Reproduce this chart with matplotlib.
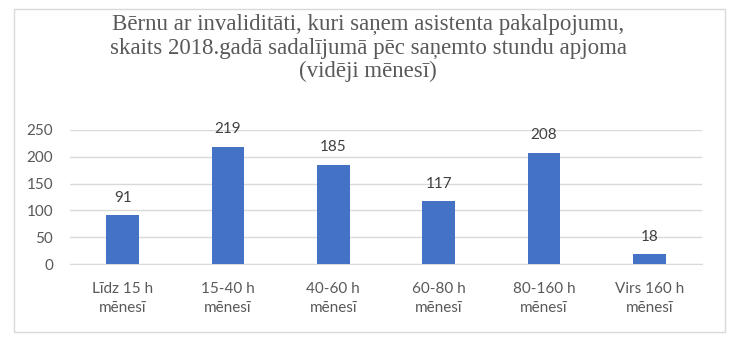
import matplotlib.pyplot as plt
import numpy as np
from matplotlib.patches import Rectangle

categories = ["Līdz 15 h\nmēnesī", "15-40 h\nmēnesī", "40-60 h\nmēnesī",
              "60-80 h\nmēnesī", "80-160 h\nmēnesī", "Virs 160 h\nmēnesī"]
values = [91, 219, 185, 117, 208, 18]
yticks = [0, 50, 100, 150, 200, 250]

title = ("Bērnu ar invaliditāti, kuri saņem asistenta pakalpojumu,\n"
         "skaits 2018.gadā sadalījumā pēc saņemto stundu apjoma\n"
         "(vidēji mēnesī)")

gray = "#595959"
plt.rcParams['font.family'] = ['Lato', 'DejaVu Sans']

fig = plt.figure(figsize=(7.36, 3.55), dpi=100)
fig.patches.append(Rectangle((14 / 736, 1 - 332 / 355), 711 / 736, 323 / 355,
                             transform=fig.transFigure, fill=False,
                             edgecolor="#d9d9d9", linewidth=1))

ax = fig.add_axes([70 / 736, 1 - 264 / 355, 632 / 736, 134 / 355])
x = np.arange(len(categories))
ax.bar(x, values, width=0.31, color="#4472C4", zorder=3)
for xi, v in zip(x, values):
    ax.text(xi, v + 20, str(v), ha="center", va="bottom", fontsize=11, color="#404040")

ax.set_xlim(-0.5, len(categories) - 0.5)
ax.set_ylim(0, 250)
ax.set_yticks(yticks)
ax.set_xticks(x)
ax.set_xticklabels(categories, fontsize=11, color=gray, linespacing=1.45)
ax.tick_params(axis="y", labelsize=11, labelcolor=gray, length=0, pad=12)
ax.tick_params(axis="x", length=0, pad=13)
ax.grid(axis="y", color="#d9d9d9", linewidth=1, zorder=0)
for s in ax.spines.values():
    s.set_visible(False)
ax.spines["bottom"].set_visible(True)
ax.spines["bottom"].set_color("#d9d9d9")

fig.text(0.5, 1 - 48 / 355, title, ha="center", va="center", fontsize=16.5,
         color=gray, family=["Liberation Serif", "DejaVu Serif"], linespacing=1.12)

fig.savefig("out.png", dpi=100)
